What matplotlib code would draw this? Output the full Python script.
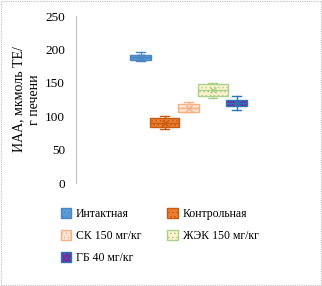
import matplotlib
matplotlib.use("Agg")
import matplotlib.pyplot as plt
from matplotlib.patches import Patch, Rectangle

plt.rcParams['font.family'] = ['Liberation Serif', 'DejaVu Serif']
plt.rcParams['hatch.linewidth'] = 0.6

# box statistics
groups = ["Интактная", "Контрольная", "СК 150 мг/кг", "ЖЭК 150 мг/кг", "ГБ 40 мг/кг"]
whis_lo = [183, 81, 106, 127, 110]
q1 = [184, 84, 107, 131, 115]
med = [188, 90, 113, 140, 120]
q3 = [192, 97, 119, 148, 125]
whis_hi = [196, 100, 122, 150, 130]
means = [188, 90, 113, 140, 120]

face = ["#5B9BD5", "#ED7D31", "#FBE5D6", "#FFF2CC", "#7030A0"]
edge = ["#4A86C5", "#C55A11", "#F4B183", "#A9D18E", "#2E75B6"]
positions = [0, 1, 2, 3, 4]
widths = [0.88, 1.2, 0.88, 1.25, 0.85]

fig = plt.figure(figsize=(3.22, 2.86), dpi=100)
ax = fig.add_axes([0.236, 0.36, 0.727, 0.584])

stats = []
for i, g in enumerate(groups):
    stats.append(dict(label=g, whislo=whis_lo[i], q1=q1[i], med=med[i],
                      q3=q3[i], whishi=whis_hi[i], mean=means[i], fliers=[]))

for i, s in enumerate(stats):
    ax.bxp([s], positions=[positions[i]], widths=[widths[i]], patch_artist=True,
           showmeans=True, meanline=False,
           boxprops=dict(facecolor=face[i], edgecolor=edge[i], linewidth=1.0, hatch='....'),
           medianprops=dict(color=edge[i], linewidth=1.0),
           whiskerprops=dict(color=edge[i], linewidth=1.0),
           capprops=dict(color=edge[i], linewidth=1.0),
           meanprops=dict(marker='x', markeredgecolor=edge[i], markersize=5),
           capwidths=[0.4])

ax.set_xlim(-2.69, 7.06)
ax.set_ylim(0, 250)
ax.set_yticks([0, 50, 100, 150, 200, 250])
ax.set_xticks([])
ax.tick_params(axis='y', length=0, labelsize=9.5, pad=8)
for side in ['top', 'right', 'bottom']:
    ax.spines[side].set_visible(False)
ax.spines['left'].set_color('#BFBFBF')
ax.spines['left'].set_linestyle((0, (1, 1)))
ax.spines['left'].set_linewidth(0.8)

ax.set_ylabel("ИАА, мкмоль ТЕ/\nг печени", fontsize=10, labelpad=3, linespacing=1.3)

handles = [Patch(facecolor=face[i], edgecolor=edge[i], hatch='....', label=groups[i])
           for i in range(5)]
order = [0, 2, 4, 1, 3]
fig.legend([handles[i] for i in order], [groups[i] for i in order],
           ncol=2, loc='upper left', bbox_to_anchor=(0.155, 0.31), frameon=False,
           fontsize=8.5, handlelength=0.9, handleheight=0.9, handletextpad=0.4,
           columnspacing=2.2, labelspacing=0.85)

fig.patches.append(Rectangle((0.002, 0.002), 0.996, 0.996, transform=fig.transFigure,
                             fill=False, edgecolor='#BFBFBF', linestyle=(0, (1, 1)),
                             linewidth=0.8))

fig.savefig("out.png", dpi=100)
